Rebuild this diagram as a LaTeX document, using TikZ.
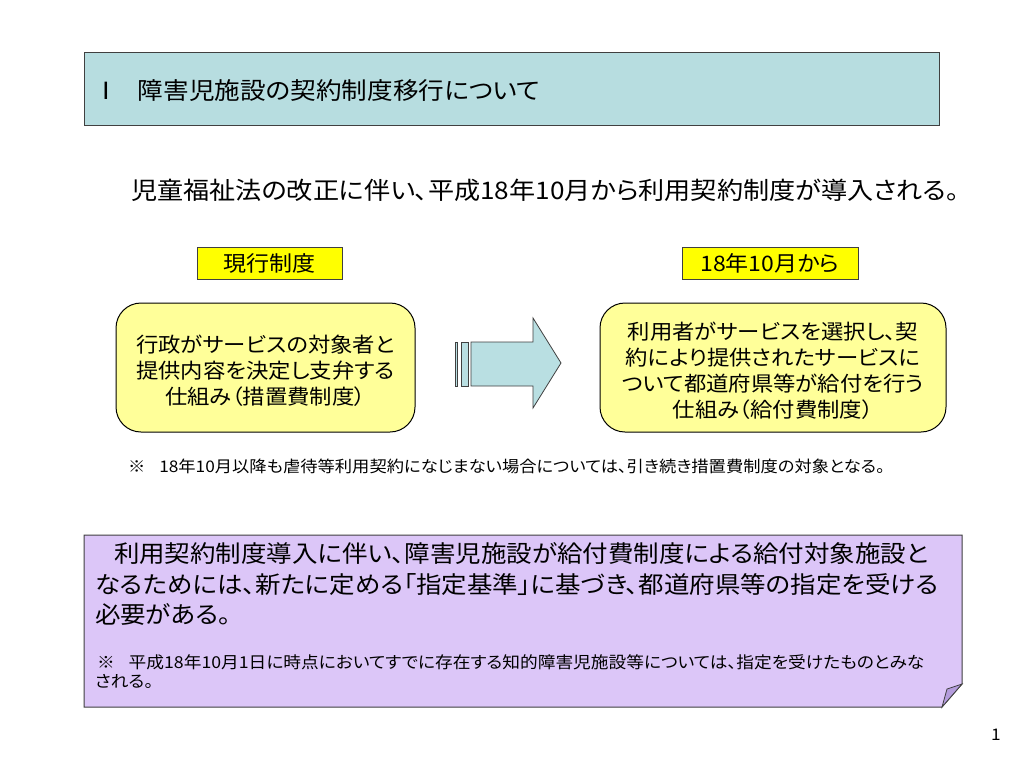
\documentclass[tikz,border=0pt]{standalone}
\usepackage{fontspec}
\setmainfont{Noto Sans CJK JP}[RawFeature=+palt, FakeStretch=1.08]
\definecolor{titlefill}{HTML}{B7DDE0}
\definecolor{arrowfill}{HTML}{B9DFE2}
\definecolor{yel}{HTML}{FFFF00}
\definecolor{lyel}{HTML}{FFFF99}
\definecolor{purp}{HTML}{DCC6F8}
\definecolor{foldc}{HTML}{B49CDC}
\definecolor{edge}{HTML}{404040}
\newcommand{\fs}[1]{\fontsize{#1}{#1}\selectfont}
\tikzset{
  titlebox/.style={draw=edge, line width=1pt, fill=titlefill, anchor=north west},
  labelbox/.style={draw=edge, line width=1pt, fill=yel, font=\fs{21.3}},
  roundbox/.style={draw=black, line width=1pt, fill=lyel, rounded corners=25pt},
  boxtext/.style={align=center, font=\fontsize{20.7}{26}\selectfont},
  stripe/.style={draw=edge, line width=0.8pt, fill=arrowfill},
  purpbox/.style={draw=edge, line width=1pt, fill=purp},
  foldst/.style={draw=edge, line width=0.8pt, fill=foldc},
  txt/.style={anchor=west},
}
\begin{document}
\begin{tikzpicture}[x=1pt,y=-1pt, every node/.style={inner sep=0pt, outer sep=0pt}]
\useasboundingbox[fill=white] (0,0) rectangle (1024,768);
% title
\node[titlebox, minimum width=855, minimum height=72] (title) at (84,53) {};
\node[txt, font=\fs{23.7}] (titletext) at (93,91) {\makebox[45pt][l]{Ⅰ}障害児施設の契約制度移行について};
% subtitle
\node[txt, font=\fs{24.2}] (subtitle) at (131,190) {児童福祉法の改正に伴い、平成18年10月から利用契約制度が導入される。};
% labels
\node[labelbox, minimum width=145, minimum height=32] (lab1) at (269.5,263) {現行制度};
\node[labelbox, minimum width=176, minimum height=32] (lab2) at (770,263) {18年10月から};
% boxes
\node[roundbox, minimum width=299, minimum height=129] (left) at (265.5,367.5) {};
\node[boxtext] (lefttext) at (265.5,371) {行政がサービスの対象者と\\提供内容を決定し支弁する\\仕組み（措置費制度）};
\node[roundbox, minimum width=346, minimum height=129] (right) at (773,367.5) {};
\node[boxtext] (righttext) at (773,370.5) {利用者がサービスを選択し、契\\約により提供されたサービスに\\ついて都道府県等が給付を行う\\仕組み（給付費制度）};
% arrow
\draw[stripe] (455,342) rectangle (457.5,386);
\draw[stripe] (461,342) rectangle (468,386);
\draw[stripe] (471,342) -- (533,342) -- (533,318) -- (561,363) -- (533,408) -- (533,386) -- (471,386) -- cycle;
\coordinate (arrowtip) at (561,363);
% note
\node[txt, font=\fs{16}] (note) at (128,466) {※\hspace{14pt}18年10月以降も虐待等利用契約になじまない場合については、引き続き措置費制度の対象となる。};
% purple box
\draw[purpbox] (84,535) -- (962,535) -- (962,684) -- (942,707) -- (84,707) -- cycle;
\draw[foldst] (962,684) -- (947,689) -- (942,707) -- cycle;
\node[txt, font=\fs{23.6}] (p1) at (114,554) {利用契約制度導入に伴い、障害児施設が給付費制度による給付対象施設と};
\node[txt, font=\fs{23.6}] (p2) at (95,585) {なるためには、新たに定める「指定基準」に基づき、都道府県等の指定を受ける};
\node[txt, font=\fs{23.6}] (p3) at (95,614) {必要がある。};
\node[txt, font=\fs{16.4}] (p4) at (97,662) {※\hspace{14pt}平成18年10月1日に時点においてすでに存在する知的障害児施設等については、指定を受けたものとみな};
\node[txt, font=\fs{16.4}] (p5) at (95,681) {される。};
% page number
\node[font=\fs{16}] (pgnum) at (996,735) {1};
\end{tikzpicture}
\end{document}
